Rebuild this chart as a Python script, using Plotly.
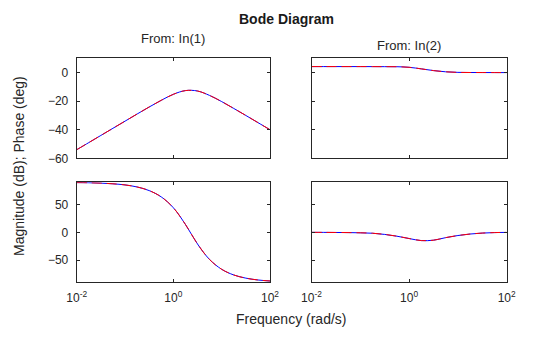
import plotly.graph_objects as go

# Frequency grid (rad/s), quarter-decade steps
freq = [0.01, 0.0178, 0.0316, 0.0562, 0.1, 0.178, 0.316, 0.562, 1.0,
        1.78, 3.16, 5.62, 10.0, 17.8, 31.6, 56.2, 100.0]

# Response from input 1
mag_in1 = [-54.0, -49.0, -44.0, -39.0, -34.0, -29.0, -24.1, -19.4, -15.2,
           -12.6, -12.9, -16.0, -20.3, -25.1, -30.0, -35.0, -40.0]
phase_in1 = [89.5, 89.2, 88.5, 87.3, 85.3, 81.6, 75.1, 63.7, 44.2,
             14.1, -21.0, -49.0, -66.6, -76.8, -82.5, -85.8, -87.6]

# Response from input 2
mag_in2 = [4.2, 4.2, 4.2, 4.2, 4.2, 4.18, 4.15, 4.1, 3.7,
           2.6, 1.4, 0.55, 0.15, 0.06, 0.03, 0.01, 0.0]
phase_in2 = [-0.1, -0.15, -0.3, -0.5, -0.9, -1.7, -3.8, -7.0, -11.2,
             -14.9, -14.2, -9.6, -5.8, -3.1, -1.4, -0.5, -0.2]

x_ticks = [0.01, 1, 100]
x_ticktext = ["10<sup>-2</sup>", "10<sup>0</sup>", "10<sup>2</sup>"]
mag_ticks = [-60, -40, -20, 0]
phase_ticks = [-50, 0, 50]

W, H = 560, 337
FONT = "Liberation Sans, Arial, Helvetica, sans-serif"
AX_COL = "#262626"

# panel pixel boxes: left, right, top, bottom
col_px = [(76.7, 270.0), (311.5, 506.7)]
row_px = [(58.3, 158.3), (182.3, 282.3)]


def xdom(c):
    return [col_px[c][0] / W, col_px[c][1] / W]


def ydom(r):
    return [1 - row_px[r][1] / H, 1 - row_px[r][0] / H]


fig = go.Figure()

panels = [
    (0, 0, mag_in1),
    (0, 1, mag_in2),
    (1, 0, phase_in1),
    (1, 1, phase_in2),
]

layout = {}
for i, (r, c, vals) in enumerate(panels):
    n = i + 1
    xa = "x" if n == 1 else f"x{n}"
    ya = "y" if n == 1 else f"y{n}"
    fig.add_trace(go.Scatter(x=freq, y=vals, xaxis=xa, yaxis=ya, mode="lines",
                             line=dict(color="#0000FF", width=1, shape="spline"),
                             showlegend=False, hoverinfo="skip"))
    fig.add_trace(go.Scatter(x=freq, y=vals, xaxis=xa, yaxis=ya, mode="lines",
                             line=dict(color="#FF0000", width=1, dash="10px,5px",
                                       shape="spline"),
                             showlegend=False, hoverinfo="skip"))
    common = dict(showline=True, linecolor=AX_COL, linewidth=1, mirror="ticks",
                  ticks="inside", ticklen=3, tickcolor=AX_COL, tickwidth=1,
                  showgrid=False, zeroline=False, automargin=False,
                  tickfont=dict(family=FONT, size=12, color=AX_COL))
    layout["xaxis" if n == 1 else f"xaxis{n}"] = dict(
        common, type="log", range=[-2, 2], domain=xdom(c),
        anchor=ya, tickvals=x_ticks, ticktext=x_ticktext,
        showticklabels=(r == 1), ticklabelstandoff=4)
    if r == 0:
        yextra = dict(range=[-60, 10], tickvals=mag_ticks)
    else:
        yextra = dict(range=[-90, 90], tickvals=phase_ticks)
    layout["yaxis" if n == 1 else f"yaxis{n}"] = dict(
        common, domain=ydom(r), anchor=xa, showticklabels=(c == 0),
        ticklabelstandoff=5, **yextra)

fig.update_layout(**layout)

txt = dict(family=FONT, color=AX_COL)
fig.update_layout(
    width=W, height=H, autosize=False,
    margin=dict(l=0, r=0, t=0, b=0, pad=0, autoexpand=False),
    paper_bgcolor="white", plot_bgcolor="white",
    annotations=[
        dict(text="<b>Bode Diagram</b>", x=286.7 / W, y=1 - 19 / H,
             xref="paper", yref="paper", showarrow=False,
             xanchor="center", yanchor="middle",
             font=dict(family=FONT, size=14, color="#1a1a1a")),
        dict(text="From: In(1)", x=173.3 / W, y=1 - 38 / H,
             xref="paper", yref="paper", showarrow=False,
             xanchor="center", yanchor="middle", font=dict(txt, size=13)),
        dict(text="From: In(2)", x=409.1 / W, y=1 - 45.5 / H,
             xref="paper", yref="paper", showarrow=False,
             xanchor="center", yanchor="middle", font=dict(txt, size=13)),
        dict(text="Frequency (rad/s)", x=290.8 / W, y=1 - 319 / H,
             xref="paper", yref="paper", showarrow=False,
             xanchor="center", yanchor="middle", font=dict(txt, size=14)),
        dict(text="Magnitude (dB); Phase (deg)", x=19 / W, y=1 - 166 / H,
             xref="paper", yref="paper", showarrow=False, textangle=-90,
             xanchor="center", yanchor="middle", font=dict(txt, size=14)),
    ],
)

fig.write_html("out.html")
